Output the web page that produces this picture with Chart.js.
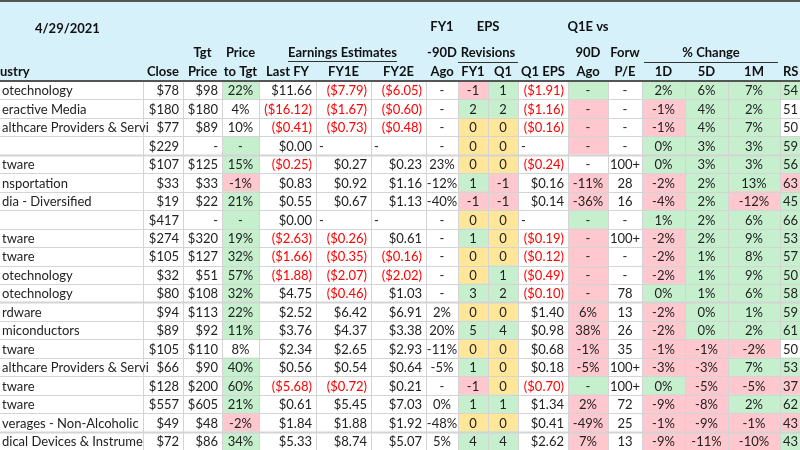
<!DOCTYPE html>
<html><head><meta charset="utf-8">
<script src="https://cdn.jsdelivr.net/npm/chart.js@4/dist/chart.umd.min.js"></script>
<style>html,body{margin:0;padding:0;background:#fff}#w{width:800px;height:450px}</style>
</head><body><div id="w"><canvas id="c"></canvas></div>
<script>
const dateLabel = "4/29/2021";
const industry = ["otechnology","eractive Media","althcare Providers & Servi","","tware","nsportation","dia - Diversified","","tware","tware","otechnology","otechnology","rdware","miconductors","tware","althcare Providers & Servi","tware","tware","verages - Non-Alcoholic","dical Devices & Instrume"];
const close = ["$78","$180","$77","$229","$107","$33","$19","$417","$274","$105","$32","$80","$94","$89","$105","$66","$128","$557","$49","$72"];
const tgtPrice = ["$98","$180","$89","-","$125","$33","$22","-","$320","$127","$51","$108","$113","$92","$110","$90","$200","$605","$48","$86"];
const priceToTgt = ["22%","4%","10%","-","15%","-1%","21%","-","19%","32%","57%","32%","22%","11%","8%","40%","60%","21%","-2%","34%"];
const lastFY = ["$11.66","($16.12)","($0.41)","$0.00","($0.25)","$0.83","$0.55","$0.00","($2.63)","($1.66)","($1.88)","$4.75","$2.52","$3.76","$2.34","$0.56","($5.68)","$0.61","$1.84","$5.33"];
const fy1e = ["($7.79)","($1.67)","($0.73)","-","$0.27","$0.92","$0.67","-","($0.26)","($0.35)","($2.07)","($0.46)","$6.42","$4.37","$2.65","$0.54","($0.72)","$5.45","$1.88","$8.74"];
const fy2e = ["($6.05)","($0.60)","($0.48)","-","$0.23","$1.16","$1.13","-","$0.61","($0.16)","($2.02)","$1.03","$6.91","$3.38","$2.93","$0.64","$0.21","$7.03","$1.92","$5.07"];
const fy1Ago = ["-","-","-","-","23%","-12%","-40%","-","-","-","-","-","2%","20%","-11%","-5%","-","0%","-48%","5%"];
const revFY1 = ["-1","2","0","0","0","1","-1","0","1","0","0","3","0","5","0","1","-1","1","0","4"];
const revQ1 = ["1","2","0","0","0","-1","-1","0","0","0","1","2","0","4","0","0","0","1","0","4"];
const q1eps = ["($1.91)","($1.16)","($0.16)","-","($0.24)","$0.16","$0.14","-","($0.19)","($0.12)","($0.49)","($0.10)","$1.40","$0.98","$0.68","$0.18","($0.70)","$1.34","$0.41","$2.62"];
const q1Ago = ["-","-","-","-","-","-11%","-36%","-","-","-","-","-","6%","38%","-1%","-5%","-","2%","-49%","7%"];
const fwdPE = ["-","-","-","-","100+","28","16","-","100+","-","-","78","13","26","35","100+","100+","72","25","13"];
const chg1D = ["2%","-1%","-1%","0%","0%","-2%","-4%","1%","-2%","-2%","-2%","0%","-2%","-2%","-1%","-3%","0%","-9%","-1%","-9%"];
const chg5D = ["6%","4%","4%","3%","3%","2%","2%","2%","2%","1%","1%","1%","0%","0%","-1%","-3%","-5%","-8%","-9%","-11%"];
const chg1M = ["7%","2%","7%","3%","3%","13%","-12%","6%","9%","8%","9%","6%","1%","2%","-2%","7%","-5%","2%","-1%","-10%"];
const rs = ["54","51","50","59","56","63","45","66","53","57","50","58","59","61","50","53","37","62","43","43"];
// cell shading codes: G green, R red, Y yellow, W white
const bgPriceToTgt = "GWWGGRGGGGGGGGWGGGRG";
const bgRevFY1   = "RGYYYGRYGYYGYGYGRGYG";
const bgRevQ1    = "GGYYYRRYYYGGYGYYYGYG";
const bgQ1Ago    = "GRRRWRRGRRRRRRRRGRRR";
const bg1D       = "GRRGGRRGRRRGRRRRGRRR";
const bg5D       = "GGGGGGGGGGGGGGRRRRRR";
const bg1M       = "GGGGGGRGGGGGGGRGRGRR";
const bgRS       = "GWWGGRGGGGGGGGWGRGRG";

const palette = {G:"#c6efce",R:"#ffc7ce",Y:"#ffe699",W:"#ffffff"};
const edges = [0,143,183,222,259,316,371,426,458,488,518,568,608,642,685,728,780,800];
const W = "W".repeat(20);
const columns = [
 {v:industry,a:"left",bg:W},{v:close,a:"right",bg:W},{v:tgtPrice,a:"right",bg:W},
 {v:priceToTgt,a:"center",bg:bgPriceToTgt},{v:lastFY,a:"right",bg:W},{v:fy1e,a:"right",bg:W},
 {v:fy2e,a:"right",bg:W},{v:fy1Ago,a:"center",bg:W},{v:revFY1,a:"center",bg:bgRevFY1},
 {v:revQ1,a:"center",bg:bgRevQ1},{v:q1eps,a:"right",bg:W},{v:q1Ago,a:"center",bg:bgQ1Ago},
 {v:fwdPE,a:"center",bg:W},{v:chg1D,a:"center",bg:bg1D},{v:chg5D,a:"center",bg:bg5D},
 {v:chg1M,a:"center",bg:bg1M},{v:rs,a:"rsleft",bg:bgRS}];
const leftDash = [5,6,10]; // columns where "-" is left aligned
const rowLabels = industry.map((_,i)=>"r"+i);

const datasets = columns.map((col,c)=>({
  data: rowLabels.map(()=>[edges[c],edges[c+1]]),
  backgroundColor: col.bg.split("").map(k=>palette[k]),
  borderWidth:0, barPercentage:1, categoryPercentage:1, borderSkipped:false
}));

const FONT = "13px Lato, 'Liberation Sans', sans-serif";
const BFONT = "bold 13px Lato, 'Liberation Sans', sans-serif";
const tablePlugin = {
  id:"table",
  beforeDraw(ch){
    const g=ch.ctx; g.save();
    g.fillStyle="#d7f1fb"; g.fillRect(0,0,800,ch.chartArea.top);
    g.fillStyle="#fff"; g.fillRect(0,ch.chartArea.top,800,450);
    g.restore();
  },
  afterDatasetsDraw(ch){
    const g=ch.ctx, xs=ch.scales.x, ys=ch.scales.y, top=ch.chartArea.top, bot=ch.chartArea.bottom;
    const X=v=>xs.getPixelForValue(v);
    g.save();
    const band=(ys.getPixelForValue(1)-ys.getPixelForValue(0));
    // grid
    g.strokeStyle="#d4d4d4"; g.lineWidth=1;
    for(let i=1;i<rowLabels.length;i++){
      const y=Math.round(ys.getPixelForValue(i)-band/2)+0.5;
      g.lineWidth=(i===4||i===12||i===19)?2:1;
      g.beginPath();g.moveTo(0,y);g.lineTo(800,y);g.stroke();
    }
    g.lineWidth=1;
    for(let c=1;c<edges.length-1;c++){
      const x=Math.round(X(edges[c]))+0.5;
      g.beginPath();g.moveTo(x,top);g.lineTo(x,bot);g.stroke();
    }
    g.strokeStyle="#555"; g.lineWidth=2;
    g.beginPath();g.moveTo(0,top);g.lineTo(800,top);g.stroke();
    g.beginPath();g.moveTo(0,1);g.lineTo(800,1);g.stroke();
    // body text
    g.font=FONT; g.textBaseline="middle";
    columns.forEach((col,c)=>{
      col.v.forEach((t,i)=>{
        if(t==="")return;
        const y=ys.getPixelForValue(i)+1;
        g.fillStyle=t.startsWith("(")?"#ff0000":"#222";
        let x, a=col.a;
        if(t==="-"&&leftDash.includes(c)&&(i===3||i===7)){a="left";}
        if(a==="left"){x=X(edges[c])+2;g.textAlign="left";}
        else if(a==="rsleft"){x=X(edges[c])+3;g.textAlign="left";}
        else if(a==="right"){x=X(edges[c+1])-4;g.textAlign="right";}
        else {x=(X(edges[c])+X(edges[c+1]))/2;g.textAlign="center";}
        if(t==="-"&&a==="left"&&c>0)x=X(edges[c])+3;
        g.fillText(t,x,y);
      });
    });
    // header
    g.fillStyle="#111"; g.font=BFONT; g.textBaseline="middle";
    const mid=(a,b)=>(X(edges[a])+X(edges[b]))/2;
    g.textAlign="left"; g.fillText(dateLabel,35,29);
    g.textAlign="center";
    const H1=27,H2=53,H3=72;
    [["FY1",7,8,H1],["EPS",8,10,H1],["Q1E vs",11,12,H1],
     ["Tgt",2,3,H2],["Price",3,4,H2],["-90D",7,8,H2],["Revisions",8,10,H2],["90D",11,12,H2],["Forw",12,13,H2],
     ["% Change",13,16,H2],["Earnings Estimates",4,7,H2],
     ["Close",1,2,H3],["Price",2,3,H3],["to Tgt",3,4,H3],["Last FY",4,5,H3],["FY1E",5,6,H3],["FY2E",6,7,H3],
     ["Ago",7,8,H3],["FY1",8,9,H3],["Q1",9,10,H3],["Q1 EPS",10,11,H3],["Ago",11,12,H3],["P/E",12,13,H3],
     ["1D",13,14,H3],["5D",14,15,H3],["1M",15,16,H3]].forEach(([t,a,b,y])=>g.fillText(t,mid(a,b),y));
    g.textAlign="left"; g.fillText("ustry",0,H3); g.fillText("RS",X(edges[16])+3,H3);
    g.strokeStyle="#333"; g.lineWidth=1;
    const ul=(x1,x2,y)=>{g.beginPath();g.moveTo(x1,y+0.5);g.lineTo(x2,y+0.5);g.stroke();};
    const ew=g.measureText("Earnings Estimates").width, em=mid(4,7);
    ul(em-ew/2,em+ew/2,61);
    ul(X(edges[8]),X(edges[10]),62);
    ul(X(edges[13])+2,X(edges[16])-2,62);
    g.restore();
  }
};

new Chart(document.getElementById("c"),{
  type:"bar",
  data:{labels:rowLabels,datasets},
  options:{
    indexAxis:"y", responsive:true, maintainAspectRatio:false, animation:false,
    layout:{padding:{top:81,left:0,right:0,bottom:0}},
    plugins:{legend:{display:false},tooltip:{enabled:false}},
    scales:{
      x:{type:"linear",min:0,max:800,display:false,stacked:false},
      y:{type:"category",display:false,stacked:true,offset:true}
    }
  },
  plugins:[tablePlugin]
});
</script></body></html>
